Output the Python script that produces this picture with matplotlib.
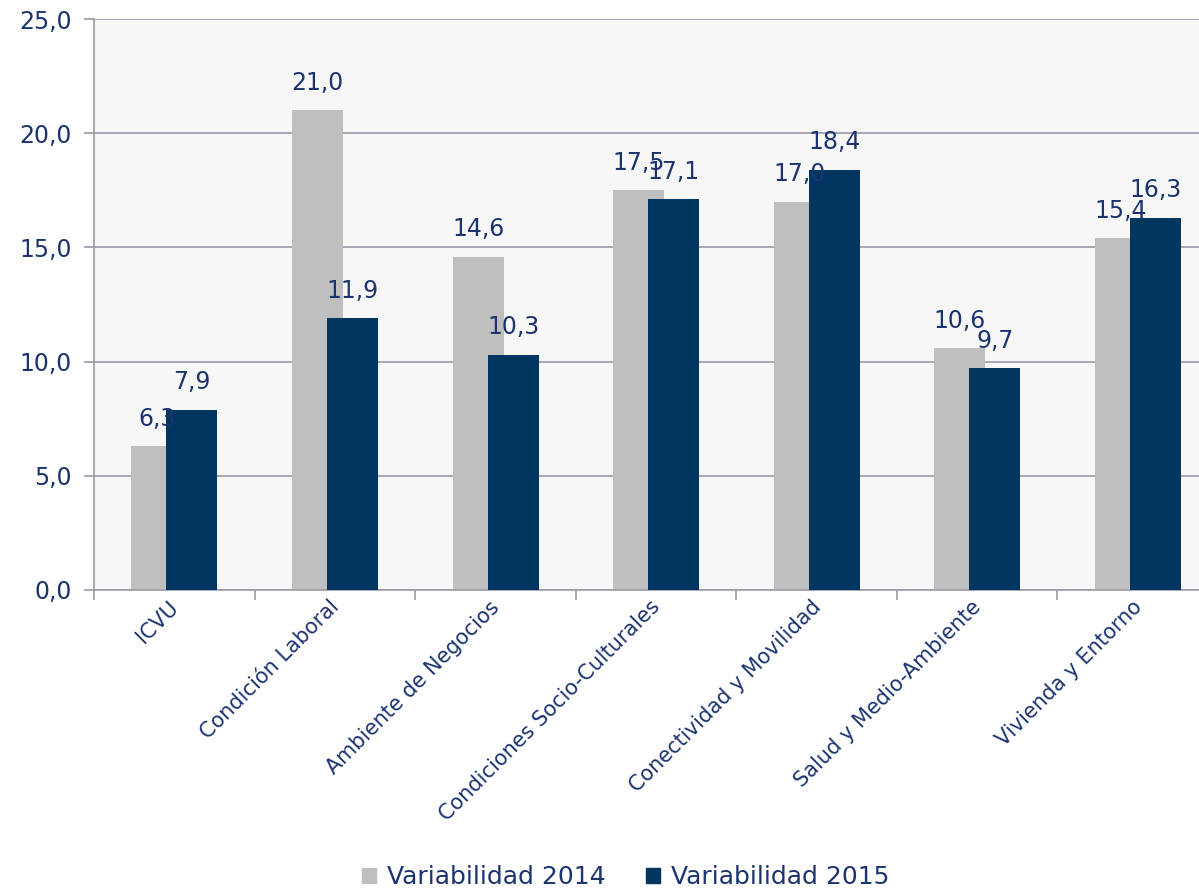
import matplotlib
matplotlib.use("Agg")
import matplotlib.pyplot as plt
import matplotlib.transforms as mtransforms
import numpy as np
from matplotlib.patches import Patch

categories = ["ICVU", "Condición Laboral", "Ambiente de Negocios",
              "Condiciones Socio-Culturales", "Conectividad y Movilidad",
              "Salud y Medio-Ambiente", "Vivienda y Entorno"]
var_2014 = [6.3, 21.0, 14.6, 17.5, 17.0, 10.6, 15.4]
var_2015 = [7.9, 11.9, 10.3, 17.1, 18.4, 9.7, 16.3]
series_names = ["Variabilidad 2014", "Variabilidad 2015"]
yticks = [0, 5, 10, 15, 20, 25]

TEXT = "#1B3470"
GREY = "#BFBFBF"
NAVY = "#003660"
GRID = "#9A9AAA"

plt.rcParams["font.family"] = ["DejaVu Sans"]

fig = plt.figure(figsize=(11.99, 8.90), dpi=100)
ax = fig.add_axes([94 / 1199, 1 - 590 / 890, 1124 / 1199, 571 / 890])
ax.set_facecolor("#F7F7F7")

x = np.arange(len(categories))
w = 0.318
ax.bar(x - 0.108, var_2014, w, color=GREY, zorder=2)
ax.bar(x + 0.11, var_2015, w, color=NAVY, zorder=3)

# value labels (comma decimal, as in the source)
for i in range(len(categories)):
    ax.annotate("{:.1f}".format(var_2014[i]).replace(".", ","),
                (x[i] - 0.108, var_2014[i]), xytext=(0, 11),
                textcoords="offset points", ha="center", va="bottom",
                fontsize=17, color=TEXT, zorder=5)
    ax.annotate("{:.1f}".format(var_2015[i]).replace(".", ","),
                (x[i] + 0.11, var_2015[i]), xytext=(0, 11),
                textcoords="offset points", ha="center", va="bottom",
                fontsize=17, color=TEXT, zorder=5)

ax.set_xlim(-0.5, len(categories) - 0.5)
ax.set_ylim(0, 25)
ax.set_yticks(yticks)
ax.set_yticklabels(["{:.1f}".format(v).replace(".", ",") for v in yticks],
                   fontsize=17, color=TEXT)
ax.yaxis.grid(True, color=GRID, linewidth=1.2, zorder=1)
ax.set_axisbelow(True)
ax.tick_params(axis="y", length=7, color=GRID, width=1.2, pad=9)

ax.set_xticks(x)
ax.set_xticklabels(categories, rotation=45, ha="right", rotation_mode="anchor",
                   fontsize=15, color=TEXT)
ax.tick_params(axis="x", length=0, pad=5)
shift = mtransforms.ScaledTranslation(-6 / 100, 0, fig.dpi_scale_trans)
for lbl in ax.get_xticklabels():
    lbl.set_transform(lbl.get_transform() + shift)
ax.set_xticks(np.arange(len(categories) + 1) - 0.5, minor=True)
ax.tick_params(axis="x", which="minor", length=7, color=GRID, width=1.2)

for side in ["top", "right"]:
    ax.spines[side].set_visible(False)
for side in ["left", "bottom"]:
    ax.spines[side].set_color(GRID)
    ax.spines[side].set_linewidth(1.2)

handles = [Patch(color=GREY), Patch(color=NAVY)]
fig.legend(handles, series_names, loc="center", bbox_to_anchor=(0.522, 1 - 877 / 890),
           ncol=2, frameon=False, fontsize=18, labelcolor=TEXT,
           handlelength=0.55, handleheight=0.55, handletextpad=0.45, columnspacing=1.6)

fig.savefig("out.png", dpi=100)
